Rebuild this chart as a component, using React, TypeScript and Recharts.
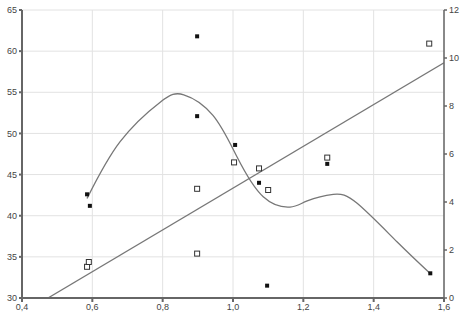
import React from 'react';
import {
  ComposedChart, Line, Scatter, XAxis, YAxis, CartesianGrid
} from 'recharts';

// filled markers, left axis
const filledPts = [
  { x: 0.585, y: 42.6 },
  { x: 0.593, y: 41.2 },
  { x: 0.898, y: 61.8 },
  { x: 0.898, y: 52.1 },
  { x: 1.006, y: 48.6 },
  { x: 1.074, y: 44.0 },
  { x: 1.097, y: 31.5 },
  { x: 1.268, y: 46.3 },
  { x: 1.561, y: 33.0 },
];

// open squares, right axis
const openPts = [
  { x: 0.585, y: 1.3 },
  { x: 0.59, y: 1.5 },
  { x: 0.898, y: 4.55 },
  { x: 0.898, y: 1.85 },
  { x: 1.003, y: 5.65 },
  { x: 1.074, y: 5.4 },
  { x: 1.1, y: 4.5 },
  { x: 1.268, y: 5.85 },
  { x: 1.558, y: 10.6 },
];

// smooth fit through the filled markers (left axis)
const curvePts = [
  { x: 0.585, y: 42.1 },
  { x: 0.679, y: 49.0 },
  { x: 0.793, y: 53.8 },
  { x: 0.86, y: 54.7 },
  { x: 0.943, y: 52.2 },
  { x: 1.012, y: 47.1 },
  { x: 1.086, y: 42.3 },
  { x: 1.162, y: 41.05 },
  { x: 1.211, y: 41.8 },
  { x: 1.285, y: 42.6 },
  { x: 1.353, y: 41.5 },
  { x: 1.467, y: 36.8 },
  { x: 1.56, y: 33.0 },
];

// straight fit through the open squares (right axis)
const fitPts = [
  { x: 0.474, y: 0 },
  { x: 1.6, y: 9.8 },
];

const xTicks = [0.4, 0.6, 0.8, 1.0, 1.2, 1.4, 1.6];
const xMinorTicks = [0.4, 0.5, 0.6, 0.7, 0.8, 0.9, 1.0, 1.1, 1.2, 1.3, 1.4, 1.5, 1.6];
const leftTicks = [30, 35, 40, 45, 50, 55, 60, 65];
const rightTicks = [0, 2, 4, 6, 8, 10, 12];
const rightMinorTicks = [1, 3, 5, 7, 9, 11];

const tickStyle = { fontFamily: 'Liberation Sans, Arial, sans-serif', fontSize: 9, fill: '#444' };
const axisGray = '#666';

const FilledMark = (props: any) => (
  <rect x={props.cx - 2} y={props.cy - 2} width={4} height={4} fill="#111" />
);

const OpenMark = (props: any) => (
  <rect x={props.cx - 2.5} y={props.cy - 2.5} width={5} height={5} fill="#fff" stroke="#333" strokeWidth={1} />
);

const NoLabel = () => <g />;

const comma = (v: number) => v.toFixed(1).replace('.', ',');

export default function App() {
  return (
    <div style={{ position: 'absolute', left: 0, top: 0, background: '#fff' }}>
      <ComposedChart width={469} height={319} margin={{ top: 10, right: 0, bottom: 0, left: 0 }}>
        <CartesianGrid stroke="#e2e2e2" strokeWidth={1} xAxisId="main" yAxisId="L" />
        {/* inward minor ticks on the bottom edge */}
        <XAxis
          xAxisId="minor"
          type="number"
          dataKey="x"
          domain={[0.4, 1.6]}
          ticks={xMinorTicks}
          height={0}
          mirror
          tick={NoLabel}
          tickSize={3}
          axisLine={false}
          stroke={axisGray}
        />
        <XAxis
          xAxisId="main"
          type="number"
          dataKey="x"
          domain={[0.4, 1.6]}
          ticks={xTicks}
          tickFormatter={comma}
          height={21}
          tick={tickStyle}
          tickSize={4}
          stroke={axisGray}
          strokeWidth={2}
          allowDataOverflow
        />
        <XAxis
          xAxisId="top"
          orientation="top"
          type="number"
          dataKey="x"
          domain={[0.4, 1.6]}
          ticks={xMinorTicks}
          height={0}
          mirror
          tick={NoLabel}
          tickSize={3}
          stroke={axisGray}
          strokeWidth={2}
        />
        <YAxis
          yAxisId="L"
          type="number"
          domain={[30, 65]}
          ticks={leftTicks}
          width={22}
          tick={tickStyle}
          tickSize={3}
          stroke={axisGray}
          strokeWidth={2}
          allowDataOverflow
        />
        {/* inward minor ticks on the right edge */}
        <YAxis
          yAxisId="Rminor"
          orientation="right"
          type="number"
          domain={[0, 12]}
          ticks={rightMinorTicks}
          width={0}
          mirror
          tick={NoLabel}
          tickSize={3}
          axisLine={false}
          stroke={axisGray}
        />
        <YAxis
          yAxisId="R"
          orientation="right"
          type="number"
          domain={[0, 12]}
          ticks={rightTicks}
          width={25}
          tick={tickStyle}
          tickSize={3}
          stroke={axisGray}
          strokeWidth={1.5}
          allowDataOverflow
        />
        <Line
          xAxisId="main"
          yAxisId="R"
          data={fitPts}
          dataKey="y"
          type="linear"
          stroke="#777"
          strokeWidth={1.3}
          dot={false}
          activeDot={false}
          isAnimationActive={false}
        />
        <Line
          xAxisId="main"
          yAxisId="L"
          data={curvePts}
          dataKey="y"
          type="natural"
          stroke="#777"
          strokeWidth={1.3}
          dot={false}
          activeDot={false}
          isAnimationActive={false}
        />
        <Scatter xAxisId="main" yAxisId="L" data={filledPts} dataKey="y" shape={FilledMark} isAnimationActive={false} />
        <Scatter xAxisId="main" yAxisId="R" data={openPts} dataKey="y" shape={OpenMark} isAnimationActive={false} />
      </ComposedChart>
    </div>
  );
}
